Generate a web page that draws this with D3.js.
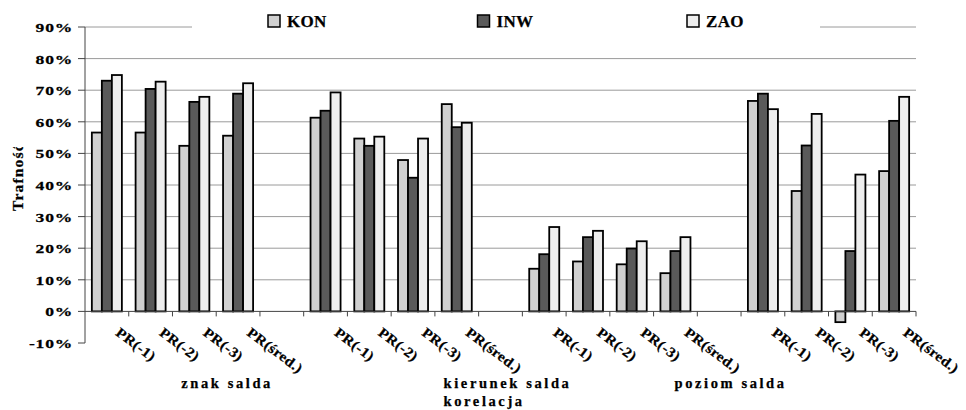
<!DOCTYPE html>
<html>
<head>
<meta charset="utf-8">
<script src="https://cdn.jsdelivr.net/npm/d3@7"></script>
<style>
  html, body { margin: 0; padding: 0; background: #fff; }
  svg { display: block; }
  svg text { font-family: "Liberation Serif", "DejaVu Serif", serif; font-weight: 700; fill: #000; stroke: #000; stroke-width: 0.25px; }
</style>
</head>
<body>
<svg id="chart" width="966" height="410"></svg>
<script>
// ---- data ----
const blockTitles = ["znak salda", "kierunek salda\nkorelacja", "poziom salda"];
const prLabels = ["PR(-1)", "PR(-2)", "PR(-3)", "PR(śred.)"];
const seriesNames = ["KON", "INW", "ZAO"];
const konValues = [56.6, 56.6, 52.4, 55.6, 61.3, 54.7, 47.9, 65.6, 13.5, 15.8, 14.9, 12.1, 66.6, 38.1, -3.4, 44.4];
const inwValues = [73.0, 70.4, 66.3, 68.9, 63.5, 52.4, 42.3, 58.3, 18.1, 23.5, 19.9, 19.1, 68.9, 52.5, 19.1, 60.3];
const zaoValues = [74.8, 72.7, 67.9, 72.2, 69.3, 55.3, 54.7, 59.7, 26.7, 25.5, 22.2, 23.5, 64.0, 62.5, 43.3, 67.9];
const yTicks = [-10, 0, 10, 20, 30, 40, 50, 60, 70, 80, 90];
const yTitle = "Trafność";
// where each block title sits, in category-index units
const blockTitlePos = [3.25, 9.66, 14.76];

// ---- build categories (4 blocks of 4, empty slot between blocks) ----
const cats = [];
let k = 0;
for (let b = 0; b < 4; b++) {
  for (let j = 0; j < 4; j++) {
    cats.push({ id: "c" + b + "_" + j, label: prLabels[j], KON: konValues[k], INW: inwValues[k], ZAO: zaoValues[k] });
    k++;
  }
  if (b < 3) cats.push({ id: "gap" + b, label: "", gap: true });
}

const colors = { KON: "#d0d0d0", INW: "#5a5a5a", ZAO: "#eeeeee" };
const FONT = "'Liberation Serif', 'DejaVu Serif', serif";

const svg = d3.select("#chart");
const pLeft = 85, pRight = 916, pTop = 27, pBottom = 343;

const x = d3.scaleBand().domain(cats.map(d => d.id)).range([pLeft, pRight]).paddingInner(0).paddingOuter(0);
const xIdx = d3.scaleLinear().domain([0, cats.length]).range([pLeft, pRight]);
const x1 = d3.scaleBand().domain(seriesNames).range([0, x.bandwidth()]).paddingInner(0).paddingOuter(0.685);
const y = d3.scaleLinear().domain([-10, 90]).range([pBottom, pTop]);

// gridlines (skip 0 and -10)
svg.append("g").selectAll("line").data(yTicks.filter(t => t > 0)).join("line")
  .attr("x1", pLeft).attr("x2", pRight)
  .attr("y1", d => y(d)).attr("y2", d => y(d))
  .attr("stroke", "#9a9a9a").attr("stroke-width", 1);

// legend background covering part of top gridline
svg.append("rect").attr("x", 192).attr("y", 6).attr("width", 628).attr("height", 30).attr("fill", "#fff");

// bars
const bars = [];
cats.filter(c => !c.gap).forEach(c => seriesNames.forEach(s => bars.push({ cat: c.id, s, v: c[s] })));
svg.append("g").selectAll("rect").data(bars).join("rect")
  .attr("x", d => x(d.cat) + x1(d.s))
  .attr("width", x1.bandwidth())
  .attr("y", d => y(Math.max(0, d.v)))
  .attr("height", d => Math.abs(y(d.v) - y(0)))
  .attr("fill", d => colors[d.s])
  .attr("stroke", "#000").attr("stroke-width", 1.8);

// y axis
svg.append("line").attr("x1", pLeft).attr("x2", pLeft).attr("y1", y(90)).attr("y2", y(-10))
  .attr("stroke", "#444").attr("stroke-width", 1);
svg.append("g").selectAll("line").data(yTicks).join("line")
  .attr("x1", pLeft - 7).attr("x2", pLeft).attr("y1", d => y(d)).attr("y2", d => y(d))
  .attr("stroke", "#444");
svg.append("g").selectAll("text").data(yTicks).join("text")
  .attr("transform", d => `translate(73,${y(d) + 5}) scale(1.3,1)`)
  .attr("text-anchor", "end")
  .attr("font-family", FONT).attr("font-weight", 700)
  .style("font-size", "13.5px").style("letter-spacing", "0.6px")
  .text(d => d + "%");

// x axis (at 0)
svg.append("line").attr("x1", pLeft).attr("x2", pRight).attr("y1", y(0)).attr("y2", y(0))
  .attr("stroke", "#444").attr("stroke-width", 1);
const bounds = d3.range(1, cats.length + 1).map(i => xIdx(i));
svg.append("g").selectAll("line").data(bounds).join("line")
  .attr("x1", d => d).attr("x2", d => d).attr("y1", y(0)).attr("y2", y(0) + 5)
  .attr("stroke", "#444");

// category labels rotated
svg.append("g").selectAll("text").data(cats.filter(c => !c.gap)).join("text")
  .attr("transform", d => `translate(${x(d.id) + x.bandwidth() / 2 + 8},${y(0) + 23}) rotate(37) scale(1.1,1)`)
  .attr("font-family", FONT).attr("font-weight", 700)
  .style("font-size", "14px").style("letter-spacing", "0.3px")
  .text(d => d.label);

// block titles
blockTitles.forEach((t, i) => {
  const lines = t.split("\n");
  const cx = xIdx(blockTitlePos[i]);
  const txt = svg.append("text")
    .attr("x", cx).attr("y", 388)
    .attr("text-anchor", "middle")
    .attr("font-family", FONT).attr("font-weight", 700)
    .style("font-size", "14.5px").style("letter-spacing", "2.6px");
  txt.text(lines[0]);
  if (lines[1]) {
    const w = txt.node().getComputedTextLength();
    svg.append("text").attr("x", cx - w / 2).attr("y", 406)
      .attr("font-family", FONT).attr("font-weight", 700)
      .style("font-size", "14.5px").style("letter-spacing", "2.6px").text(lines[1]);
  }
});

// y axis title, clipped at top
svg.append("clipPath").attr("id", "ytclip").append("rect")
  .attr("x", 0).attr("y", 147).attr("width", 40).attr("height", 100);
svg.append("g").attr("clip-path", "url(#ytclip)")
  .append("text")
  .attr("transform", "translate(23,211) rotate(-90)")
  .attr("font-family", FONT).attr("font-weight", 700)
  .style("font-size", "15.5px").style("letter-spacing", "1.2px")
  .text(yTitle);

// legend
const legX = d3.scaleLinear().domain([0, 2]).range([268, 687]);
const leg = svg.append("g").selectAll("g").data(seriesNames).join("g")
  .attr("transform", (d, i) => `translate(${legX(i)},15)`);
leg.append("rect").attr("width", 12).attr("height", 12)
  .attr("fill", d => colors[d]).attr("stroke", "#000").attr("stroke-width", 1.5);
leg.append("text").attr("x", 19).attr("y", 12)
  .attr("font-family", FONT).attr("font-weight", 700)
  .style("font-size", "17px").style("letter-spacing", "0.3px")
  .text(d => d);
</script>
</body>
</html>
